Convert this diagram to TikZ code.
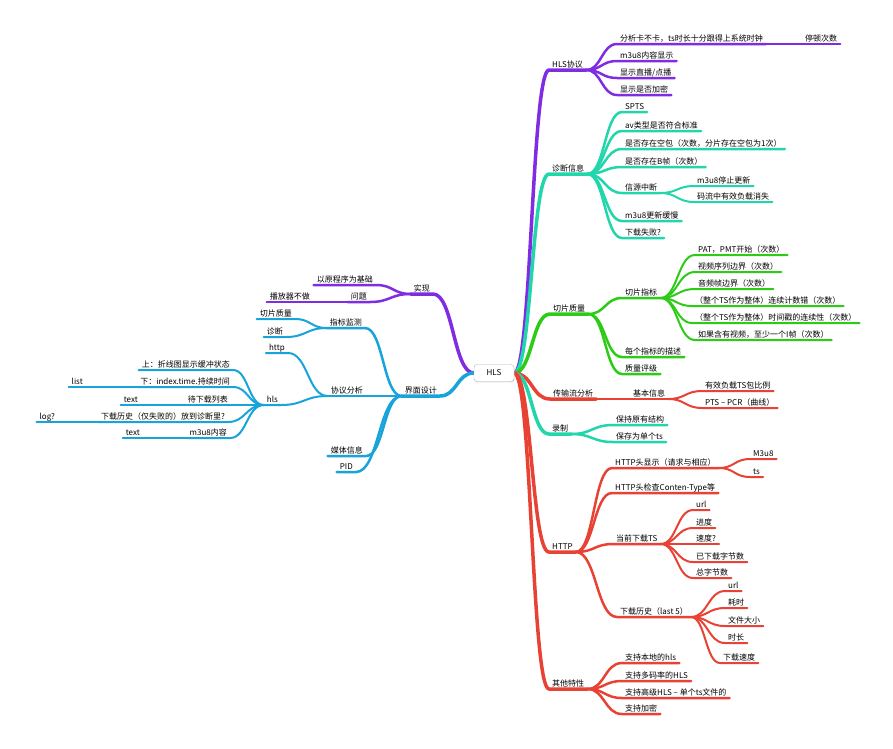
\documentclass[tikz,border=0pt]{standalone}
\usepackage{fontspec}
\newfontfamily\cjk{Noto Sans CJK SC}
\usetikzlibrary{backgrounds,shadows}
\definecolor{hlsviolet}{RGB}{128,44,226}
\definecolor{diagteal}{RGB}{32,214,170}
\definecolor{slicegreen}{RGB}{44,204,22}
\definecolor{tsred}{RGB}{232,66,52}
\definecolor{uiblue}{RGB}{24,163,218}
\tikzset{
  item/.style={font=\cjk\fontsize{8}{9}\selectfont,inner xsep=3pt,inner ysep=1pt,
    text height=6.5pt,text depth=1.5pt,anchor=south west},
  litem/.style={item,anchor=south east},
  root/.style={draw=gray!60,fill=white,rounded corners=3pt,minimum width=40pt,
    minimum height=17pt,font=\cjk\fontsize{8}{9}\selectfont,
    drop shadow={shadow xshift=0.6pt,shadow yshift=-0.8pt,opacity=0.25}},
  link/.style={line cap=round,line join=round},
  lone/.style={line width=3.5pt},
  ltwo/.style={line width=2.5pt},
  lthree/.style={line width=2pt}
}
% parent point -> child (right side / left side)
\newcommand\rlink[3][]{%
  \path (#2) -- coordinate[pos=.5] (m) (#3.south west);
  \draw[link,#1] (#2) .. controls (m |- #2) and (m |- #3.south west) .. (#3.south west) -- (#3.south east);}
\newcommand\llink[3][]{%
  \path (#2) -- coordinate[pos=.5] (m) (#3.south east);
  \draw[link,#1] (#2) .. controls (m |- #2) and (m |- #3.south east) .. (#3.south east) -- (#3.south west);}
\begin{document}
\begin{tikzpicture}[x=1pt,y=-1pt]
\useasboundingbox (0,0) rectangle (893,748);
\node[root] (root) at (494,373) {HLS};
% HLS协议
\node[item] (hlsp) at (549,70) {HLS协议};
\node[item] (a1) at (617,44) {分析卡不卡，ts时长十分跟得上系统时钟};
\node[item] (a11) at (802,44) {停顿次数};
\node[item] (a2) at (617,61) {m3u8内容显示};
\node[item] (a3) at (617,78) {显示直播/点播};
\node[item] (a4) at (617,95) {显示是否加密};
% 诊断信息
\node[item] (diag) at (549,174) {诊断信息};
\node[item] (b1) at (622,112) {SPTS};
\node[item] (b2) at (622,131) {av类型是否符合标准};
\node[item] (b3) at (622,149) {是否存在空包（次数，分片存在空包为1次）};
\node[item] (b4) at (622,167) {是否存在B帧（次数）};
\node[item] (b5) at (622,193) {信源中断};
\node[item] (b51) at (694,186) {m3u8停止更新};
\node[item] (b52) at (694,202) {码流中有效负载消失};
\node[item] (b6) at (622,221) {m3u8更新缓慢};
\node[item] (b7) at (622,238) {下载失败?};
% 切片质量
\node[item] (slice) at (550,314) {切片质量};
\node[item] (c1) at (622,298) {切片指标};
\node[item] (c11) at (695,255) {PAT，PMT开始（次数）};
\node[item] (c12) at (695,272) {视频序列边界（次数）};
\node[item] (c13) at (695,289) {音频帧边界（次数）};
\node[item] (c14) at (692,306) {（整个TS作为整体）连续计数错（次数）};
\node[item] (c15) at (692,323) {（整个TS作为整体）时间戳的连续性（次数）};
\node[item] (c16) at (695,340) {如果含有视频，至少一个I帧（次数）};
\node[item] (c2) at (622,357) {每个指标的描述};
\node[item] (c3) at (622,374) {质量评级};
% 传输流分析, 录制
\node[item] (tsa) at (550,399) {传输流分析};
\node[item] (d1) at (630,399) {基本信息};
\node[item] (d11) at (702,391) {有效负载TS包比例};
\node[item] (d12) at (702,408) {PTS – PCR（曲线）};
\node[item] (rec) at (549,434) {录制};
\node[item] (e1) at (613,425) {保持原有结构};
\node[item] (e2) at (613,442) {保存为单个ts};
% HTTP
\node[item] (http) at (549,552) {HTTP};
\node[item] (f1) at (612,468) {HTTP头显示（请求与相应）};
\node[item] (f11) at (750,459) {M3u8};
\node[item] (f12) at (750,477) {ts};
\node[item] (f2) at (612,493) {HTTP头检查Conten-Type等};
\node[item] (f3) at (613,544) {当前下载TS};
\node[item] (f31) at (693,510) {url};
\node[item] (f32) at (693,528) {进度};
\node[item] (f33) at (693,544) {速度?};
\node[item] (f34) at (693,562) {已下载字节数};
\node[item] (f35) at (693,578) {总字节数};
\node[item] (f4) at (617,617) {下载历史（last 5）};
\node[item] (f41) at (725,591) {url};
\node[item] (f42) at (725,608) {耗时};
\node[item] (f43) at (725,626) {文件大小};
\node[item] (f44) at (725,643) {时长};
\node[item] (f45) at (720,663) {下载速度};
% 其他特性
\node[item] (other) at (549,689) {其他特性};
\node[item] (g1) at (622,663) {支持本地的hls};
\node[item] (g2) at (622,681) {支持多码率的HLS};
\node[item] (g3) at (622,698) {支持高级HLS – 单个ts文件的};
\node[item] (g4) at (622,714) {支持加密};
% 实现
\node[litem] (impl) at (433,294) {实现};
\node[litem] (i1) at (376,285) {以原程序为基础};
\node[litem] (i2) at (370,302) {问题};
\node[litem] (i21) at (313,302) {播放器不做};
% 界面设计
\node[litem] (ui) at (440,396) {界面设计};
\node[litem] (u1) at (365,328) {指标监测};
\node[litem] (u11) at (295,319) {切片质量};
\node[litem] (u12) at (286,337) {诊断};
\node[litem] (u2) at (366,396) {协议分析};
\node[litem] (u21) at (288,353) {http};
\node[litem] (u22) at (281,405) {hls};
\node[litem] (h1) at (233,370) {上：折线图显示缓冲状态};
\node[litem] (h2) at (233,387) {下：index.time.持续时间};
\node[litem] (h21) at (86,387) {list};
\node[litem] (h3) at (231,405) {待下载列表};
\node[litem] (h31) at (141,405) {text};
\node[litem] (h4) at (228,422) {下载历史（仅失败的）放到诊断里?};
\node[litem] (h41) at (58,422) {log?};
\node[litem] (h5) at (230,438) {m3u8内容};
\node[litem] (h51) at (143,438) {text};
\node[litem] (u3) at (366,456) {媒体信息};
\node[litem] (u4) at (356,472) {PID};

\begin{scope}[on background layer]
% right side
\rlink[hlsviolet,lone]{root.east}{hlsp}
\foreach \c in {a1,a2,a3,a4} {\rlink[hlsviolet,ltwo]{hlsp.south east}{\c}}
\rlink[hlsviolet,lthree]{a1.south east}{a11}
\rlink[diagteal,lone]{root.east}{diag}
\foreach \c in {b1,b2,b3,b4,b5,b6,b7} {\rlink[diagteal,ltwo]{diag.south east}{\c}}
\foreach \c in {b51,b52} {\rlink[diagteal,lthree]{b5.south east}{\c}}
\rlink[slicegreen,lone]{root.east}{slice}
\foreach \c in {c1,c2,c3} {\rlink[slicegreen,ltwo]{slice.south east}{\c}}
\foreach \c in {c11,c12,c13,c14,c15,c16} {\rlink[slicegreen,lthree]{c1.south east}{\c}}
\rlink[tsred,lone]{root.east}{tsa}
\rlink[tsred,ltwo]{tsa.south east}{d1}
\foreach \c in {d11,d12} {\rlink[tsred,lthree]{d1.south east}{\c}}
\rlink[diagteal,lone]{root.east}{rec}
\foreach \c in {e1,e2} {\rlink[diagteal,ltwo]{rec.south east}{\c}}
\rlink[tsred,lone]{root.east}{http}
\foreach \c in {f1,f2,f3,f4} {\rlink[tsred,ltwo]{http.south east}{\c}}
\foreach \c in {f11,f12} {\rlink[tsred,lthree]{f1.south east}{\c}}
\foreach \c in {f31,f32,f33,f34,f35} {\rlink[tsred,lthree]{f3.south east}{\c}}
\foreach \c in {f41,f42,f43,f44,f45} {\rlink[tsred,lthree]{f4.south east}{\c}}
\rlink[tsred,lone]{root.east}{other}
\foreach \c in {g1,g2,g3,g4} {\rlink[tsred,ltwo]{other.south east}{\c}}
% left side
\llink[hlsviolet,lone]{root.west}{impl}
\foreach \c in {i1,i2} {\llink[hlsviolet,ltwo]{impl.south west}{\c}}
\llink[hlsviolet,lthree]{i2.south west}{i21}
\llink[uiblue,lone]{root.west}{ui}
\foreach \c in {u1,u2,u3,u4} {\llink[uiblue,ltwo]{ui.south west}{\c}}
\foreach \c in {u11,u12} {\llink[uiblue,lthree]{u1.south west}{\c}}
\foreach \c in {u21,u22} {\llink[uiblue,lthree]{u2.south west}{\c}}
\foreach \c in {h1,h2,h3,h4,h5} {\llink[uiblue,lthree]{u22.south west}{\c}}
\llink[uiblue,lthree]{h2.south west}{h21}
\llink[uiblue,lthree]{h3.south west}{h31}
\llink[uiblue,lthree]{h4.south west}{h41}
\llink[uiblue,lthree]{h5.south west}{h51}
\end{scope}
\end{tikzpicture}
\end{document}
